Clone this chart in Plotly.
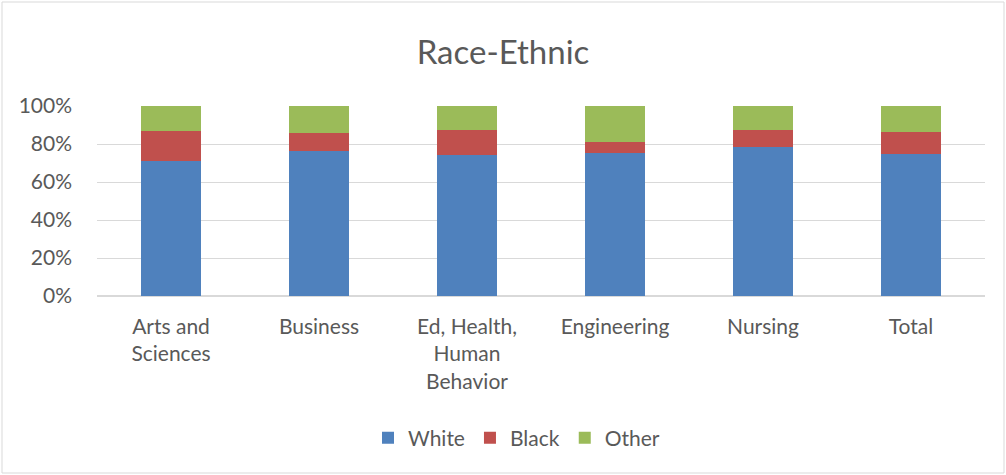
import plotly.graph_objects as go

categories = ["Arts and<br>Sciences", "Business", "Ed, Health,<br>Human<br>Behavior", "Engineering", "Nursing", "Total"]
white = [70.8, 76.3, 74.0, 75.2, 78.2, 74.7]
black = [16.0, 9.6, 13.3, 6.0, 9.0, 11.4]
other = [round(100 - w - b, 1) for w, b in zip(white, black)]
y_ticks = [0, 20, 40, 60, 80, 100]
y_tick_labels = ["0%", "20%", "40%", "60%", "80%", "100%"]

W, H = 1006, 475
ml, mr, mt, mb = 97, 21, 106, 179
pw, ph = W - ml - mr, H - mt - mb

fig = go.Figure()
for name, vals, color in [("White", white, "#4f81bd"), ("Black", black, "#c0504d"), ("Other", other, "#9bbb59")]:
    fig.add_trace(go.Bar(x=categories, y=vals, name=name, marker=dict(color=color, line=dict(width=0))))

font = "Lato, 'Open Sans', sans-serif"
fig.update_layout(
    barmode="stack",
    bargap=0.6,
    width=W, height=H,
    margin=dict(l=ml, r=mr, t=mt, b=mb),
    paper_bgcolor="white", plot_bgcolor="white",
    font=dict(family=font, color="#595959", size=21),
    title=dict(text="Race-Ethnic", x=0.5, xanchor="center", y=1 - 52 / H, yanchor="middle",
               font=dict(size=33, color="#595959", family=font)),
    showlegend=True,
    legend=dict(orientation="h", x=(368 - ml) / pw, xanchor="left", y=-(438 - 296) / ph, yanchor="middle",
                font=dict(size=21, color="#595959"), traceorder="normal", itemwidth=30),
    xaxis=dict(showgrid=False, showline=False, ticks="", tickfont=dict(size=21), ticklabelstandoff=16),
    yaxis=dict(range=[0, 100], tickvals=y_ticks, ticktext=y_tick_labels, showgrid=True, gridcolor="#d9d9d9",
               gridwidth=1, zeroline=True, zerolinecolor="#d9d9d9", showline=False, ticks="",
               tickfont=dict(size=21), ticklabelstandoff=24),
    shapes=[dict(type="rect", xref="paper", yref="paper",
                 x0=-(ml - 2) / pw, x1=1 + (mr - 2) / pw, y0=-(mb - 2) / ph, y1=1 + (mt - 2) / ph,
                 line=dict(color="#d9d9d9", width=1), fillcolor="rgba(0,0,0,0)", layer="below")],
)
fig.write_html("out.html", config={"displayModeBar": False},
               post_script="document.body.style.margin='0';")
